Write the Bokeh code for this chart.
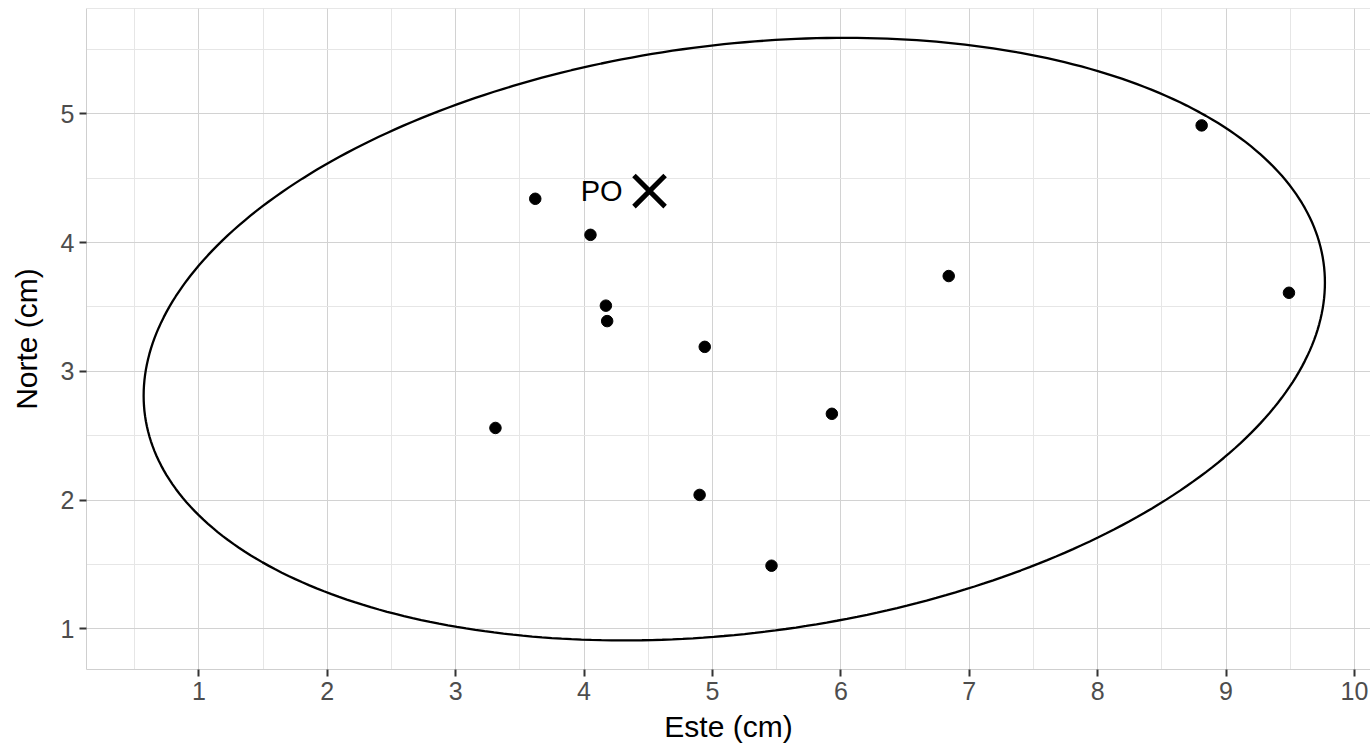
import numpy as np
from bokeh.plotting import figure
from bokeh.models import Range1d, SingleIntervalTicker, Span, ColumnDataSource
from bokeh.embed import file_html
from bokeh.resources import INLINE
from bokeh.core.properties import value

# ---- data ----
este = [3.62, 4.05, 4.17, 4.18, 4.94, 3.31, 4.90, 5.46, 5.93, 6.84, 8.81, 9.49]
norte = [4.34, 4.06, 3.51, 3.39, 3.19, 2.56, 2.04, 1.49, 2.67, 3.74, 4.91, 3.61]
po_este = [4.51]
po_norte = [4.40]
po_label = ["PO"]
ellipse_center = [5.17, 3.25]
ellipse_shape = [[21.16, 2.02], [2.02, 5.476]]  # shape matrix (x, y)
x_ticks = [1, 2, 3, 4, 5, 6, 7, 8, 9, 10]
y_ticks = [1, 2, 3, 4, 5]

# ellipse outline from center + chol(shape)
L = np.linalg.cholesky(np.array(ellipse_shape))
t = np.linspace(0, 2 * np.pi, 361)
circ = np.vstack([np.cos(t), np.sin(t)])
ell = L @ circ
ell_x = ellipse_center[0] + ell[0]
ell_y = ellipse_center[1] + ell[1]

FONT = "Liberation Sans"
BORDER = "#CFCFCF"

p = figure(width=1370, height=750, output_backend="svg", toolbar_location=None,
           x_range=Range1d(0.125, 10.125), y_range=Range1d(0.684, 5.818),
           min_border_left=86, min_border_right=0, min_border_top=8,
           min_border_bottom=81)
p.outline_line_color = None
p.background_fill_color = "white"
p.border_fill_color = "white"

xt = SingleIntervalTicker(interval=1, num_minor_ticks=2)
yt = SingleIntervalTicker(interval=1, num_minor_ticks=2)
p.xaxis.ticker = xt
p.yaxis.ticker = yt
p.xgrid.ticker = xt
p.ygrid.ticker = yt

for g in (p.xgrid, p.ygrid):
    g.grid_line_color = "#D2D2D2"
    g.grid_line_width = 1
    g.minor_grid_line_color = "#E6E6E6"
    g.minor_grid_line_width = 1

for ax in (p.xaxis, p.yaxis):
    ax.axis_line_color = BORDER
    ax.axis_line_width = 1
    ax.major_tick_line_color = "#333333"
    ax.major_tick_line_width = 2
    ax.major_tick_out = 7
    ax.major_tick_in = 0
    ax.minor_tick_line_color = None
    ax.major_label_text_font = FONT
    ax.major_label_text_font_size = "25px"
    ax.major_label_text_color = "#4D4D4D"
    ax.axis_label_text_font = FONT
    ax.axis_label_text_font_size = "30px"
    ax.axis_label_text_font_style = "normal"
    ax.axis_label_text_color = "black"
    ax.major_label_standoff = 5

p.xaxis.axis_label = "Este (cm)"
p.yaxis.axis_label = "Norte (cm)"
p.xaxis.axis_label_standoff = 7
p.yaxis.axis_label_standoff = 15

p.add_layout(Span(location=5.818, dimension="width", line_color=BORDER, line_width=1))

p.line(ell_x, ell_y, line_color="black", line_width=2.3)
p.scatter(este, norte, size=11.5, color="black")

src_po = ColumnDataSource(dict(x=po_este, y=po_norte, label=po_label))
p.scatter("x", "y", source=src_po, marker="x", size=44, line_width=5, line_color="black")
p.text("x", "y", text="label", source=src_po, x_offset=-27, text_align="right",
       text_baseline="middle", text_font=value(FONT), text_font_size="29px",
       text_color="black")

open("out.html", "w").write(file_html(p, INLINE))
